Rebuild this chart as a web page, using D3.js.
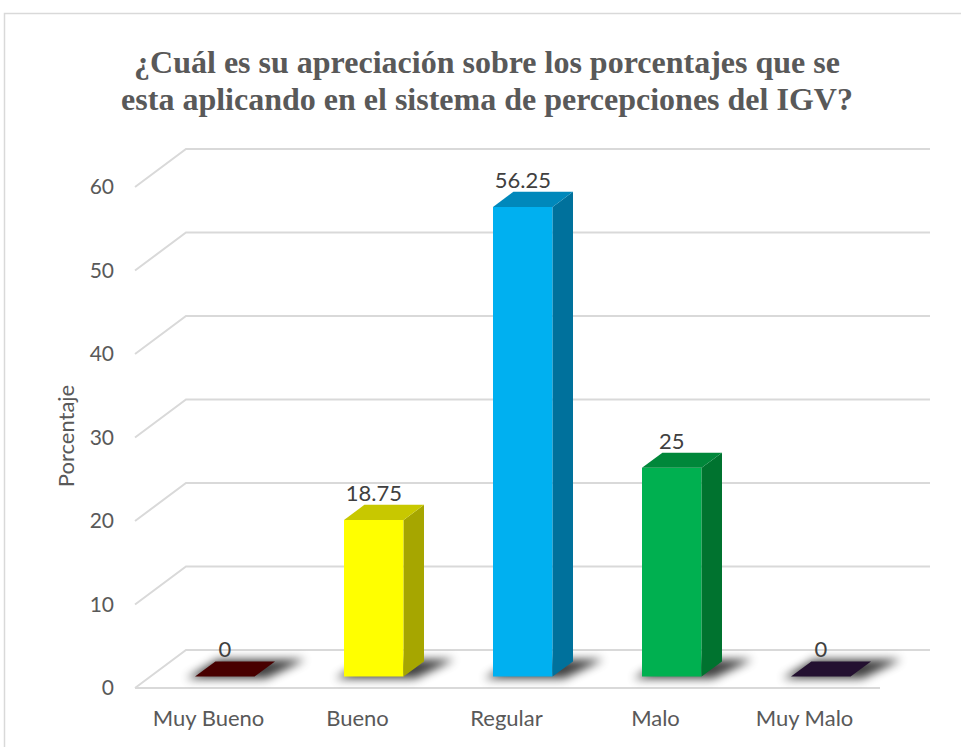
<!DOCTYPE html>
<html>
<head>
<meta charset="utf-8">
<script src="https://cdn.jsdelivr.net/npm/d3@7/dist/d3.min.js"></script>
<style>
  body { margin: 0; background: #fff; }
  svg { display: block; }
  .tick-label, .cat-label, .axis-title { fill: #595959; font-family: Lato, "Open Sans", sans-serif; }
  .data-label { fill: #404040; font-family: Lato, "Open Sans", sans-serif; }
  .title { fill: #595959; font-family: "Liberation Serif", "Times New Roman", serif; font-weight: bold; }
</style>
</head>
<body>
<svg width="961" height="747"></svg>
<script>
// data
const categories = ["Muy Bueno", "Bueno", "Regular", "Malo", "Muy Malo"];
const values = [0, 18.75, 56.25, 25, 0];
const yTicks = [0, 10, 20, 30, 40, 50, 60];
const titleLines = [
  "¿Cuál es su apreciación sobre los porcentajes que se",
  "esta aplicando en el sistema de percepciones del IGV?"
];

// bar colours: front, side, top
const barColors = [
  ["#4a0000", "#300000", "#480000"],
  ["#ffff00", "#a6a600", "#c8c800"],
  ["#00b0f0", "#00719c", "#0088bb"],
  ["#00b050", "#00732f", "#00873a"],
  ["#231030", "#150a1e", "#231030"]
];

const svg = d3.select("svg");

// chart frame
svg.append("rect")
  .attr("x", 4.5).attr("y", 13.5)
  .attr("width", 1000).attr("height", 1000)
  .attr("fill", "none").attr("stroke", "#d9d9d9").attr("stroke-width", 1.5);

// ===========================================================================
// scales + oblique projection
// ===========================================================================
const x = d3.scaleBand().domain(categories).range([135, 880]).paddingInner(0.6).paddingOuter(0.3);
const y = d3.scaleLinear().domain([0, 60]).range([688, 187]);
const DEPTH = [51, -38];
const Z0 = 0.3, Z1 = 0.7; // bar depth range within floor
const proj = (px, v, z) => [px + DEPTH[0] * z, y(v) + DEPTH[1] * z];
const backRight = 930;

const defs = svg.append("defs");
defs.append("filter").attr("id", "shadow")
  .attr("x", "-50%").attr("y", "-100%").attr("width", "200%").attr("height", "300%")
  .append("feGaussianBlur").attr("stdDeviation", 5);

// gridlines (left wall + back wall)
const grid = svg.append("g").attr("fill", "none").attr("stroke", "#d9d9d9").attr("stroke-width", 2);
yTicks.forEach((v) => {
  const a = proj(135, v, 0), b = proj(135, v, 1);
  grid.append("path").attr("d", d3.line()([a, b, [backRight, b[1]]]));
});
// floor front edge
grid.append("path").attr("d", d3.line()([proj(135, 0, 0), proj(x.range()[1], 0, 0)]));

// tick labels
svg.append("g").selectAll("text").data(yTicks).join("text")
  .attr("class", "tick-label")
  .attr("x", 114).attr("y", (d) => y(d))
  .attr("dy", "0.35em").attr("text-anchor", "end")
  .attr("font-size", 21)
  .text((d) => d);

// axis title
svg.append("text").attr("class", "axis-title")
  .attr("transform", "translate(74,436) rotate(-90)")
  .attr("text-anchor", "middle").attr("font-size", 22)
  .text("Porcentaje");

// category labels
svg.append("g").selectAll("text").data(categories).join("text")
  .attr("class", "cat-label")
  .attr("x", (d) => x(d) + x.bandwidth() / 2 - 1)
  .attr("y", 726)
  .attr("text-anchor", "middle").attr("font-size", 22)
  .text((d) => d);

// ===========================================================================
// bars
// ===========================================================================
const bars = svg.append("g");
const poly = (pts) => "M" + pts.map((p) => p.join(",")).join("L") + "Z";

categories.forEach((c, i) => {
  const v = values[i];
  const x0 = x(c), x1 = x(c) + x.bandwidth();
  const col = barColors[i];
  const g = bars.append("g");

  // soft shadow on the floor
  const sh = 14;
  g.append("path")
    .attr("d", poly([
      [proj(x0, 0, Z0 - 0.05)[0] - 6, proj(x0, 0, Z0 - 0.05)[1]],
      [proj(x1, 0, Z0 - 0.05)[0] + sh, proj(x1, 0, Z0 - 0.05)[1]],
      [proj(x1, 0, Z1 + 0.05)[0] + sh + 14, proj(x1, 0, Z1 + 0.05)[1]],
      [proj(x0, 0, Z1 + 0.05)[0], proj(x0, 0, Z1 + 0.05)[1]]
    ]))
    .attr("fill", "#000").attr("opacity", 0.75)
    .attr("filter", "url(#shadow)");

  const fl = proj(x0, v, Z0), fr = proj(x1, v, Z0);
  const bl = proj(x0, v, Z1), br = proj(x1, v, Z1);
  const frb = proj(x1, 0, Z0), brb = proj(x1, 0, Z1);

  if (v > 0) {
    // front
    g.append("path").attr("d", poly([fl, fr, frb, proj(x0, 0, Z0)])).attr("fill", col[0]);
    // side
    g.append("path").attr("d", poly([fr, br, brb, frb])).attr("fill", col[1]);
  }
  // top
  g.append("path").attr("d", poly([fl, fr, br, bl])).attr("fill", col[2]);

  // value label
  g.append("text").attr("class", "data-label")
    .attr("x", (fl[0] + fr[0]) / 2)
    .attr("y", bl[1] - 4)
    .attr("text-anchor", "middle").attr("font-size", 22)
    .text(v);
});

// title
svg.append("g").selectAll("text").data(titleLines).join("text")
  .attr("class", "title")
  .attr("x", 487).attr("y", (d, i) => 73 + i * 37)
  .attr("text-anchor", "middle").attr("font-size", 32)
  .text((d) => d);
</script>
</body>
</html>
